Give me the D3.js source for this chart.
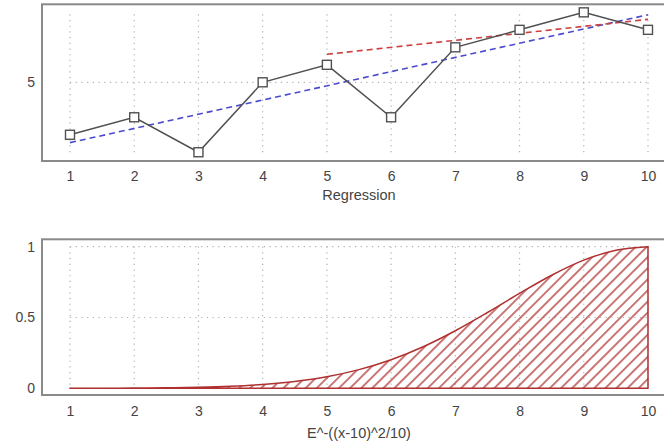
<!DOCTYPE html>
<html>
<head>
<meta charset="utf-8">
<script src="https://cdn.jsdelivr.net/npm/d3@7"></script>
<style>
  html, body { margin: 0; padding: 0; background: #fff; }
  svg { display: block; }
  text { font-family: "Liberation Sans", Arial, sans-serif; fill: #444; }
</style>
</head>
<body>
<svg id="chart" width="664" height="441"></svg>
<script>
// ---- data ----
const xValues = [1, 2, 3, 4, 5, 6, 7, 8, 9, 10];
const yValues = [2, 3, 1, 5, 6, 3, 7, 8, 9, 8];
const fitAllX = [1, 10];
const fitAllY = [1.55, 8.86];
const fitTailX = [5, 10];
const fitTailY = [6.6, 8.6];
const curveX = [1, 1.5, 2, 2.5, 3, 3.5, 4, 4.5, 5, 5.5, 6, 6.5, 7, 7.5, 8, 8.5, 9, 9.5, 10];
const curveY = [0.0003, 0.0007, 0.0017, 0.0036, 0.0074, 0.0146, 0.0273, 0.0486, 0.0821, 0.1320,
                0.2019, 0.2938, 0.4066, 0.5353, 0.6703, 0.7985, 0.9048, 0.9753, 1.0];
const xTicks = [1, 2, 3, 4, 5, 6, 7, 8, 9, 10];
const topYTicks = [5];
const bottomYTicks = [0, 0.5, 1];
const bottomYTickLabels = ["0", "0.5", "1"];
const topTitle = "Regression";
const bottomTitle = "E^-((x-10)^2/10)";

const svg = d3.select("#chart");
const gridColor = "#b0b0b0";
const frameColor = "#8a8a8a";
const fontSize = 14.5;

const left = 42, right = 676;
const x = d3.scaleLinear().domain([0.564, 10.436]).range([left, right]);

// ---------- top panel ----------
const yTop = d3.scaleLinear().domain([0.5, 9.46]).range([161, 4.3]);
const gTop = svg.append("g");

gTop.selectAll("line.vgrid").data(xTicks).join("line")
  .attr("x1", d => x(d)).attr("x2", d => x(d))
  .attr("y1", yTop(1)).attr("y2", yTop(9))
  .attr("stroke", gridColor).attr("stroke-width", 1.2).attr("stroke-dasharray", "1.2,4.5");
gTop.selectAll("line.hgrid").data(topYTicks).join("line")
  .attr("x1", x(1)).attr("x2", x(10))
  .attr("y1", d => yTop(d)).attr("y2", d => yTop(d))
  .attr("stroke", gridColor).attr("stroke-width", 1.2).attr("stroke-dasharray", "1.2,4.5");

const lineFn = (xs, ys, sx, sy) => d3.line().x((d, i) => sx(xs[i])).y((d, i) => sy(ys[i]))(xs);
gTop.append("path").attr("d", lineFn(fitAllX, fitAllY, x, yTop))
  .attr("fill", "none").attr("stroke", "#4a4ad0").attr("stroke-width", 1.6).attr("stroke-dasharray", "6,4");
gTop.append("path").attr("d", lineFn(fitTailX, fitTailY, x, yTop))
  .attr("fill", "none").attr("stroke", "#cc4040").attr("stroke-width", 1.6).attr("stroke-dasharray", "6,4");

gTop.append("path").attr("d", lineFn(xValues, yValues, x, yTop))
  .attr("fill", "none").attr("stroke", "#505050").attr("stroke-width", 1.5);
gTop.selectAll("rect.mk").data(xValues).join("rect")
  .attr("x", (d) => x(d) - 4.5).attr("y", (d, i) => yTop(yValues[i]) - 4.5)
  .attr("width", 9).attr("height", 9)
  .attr("fill", "#fff").attr("stroke", "#505050").attr("stroke-width", 1.4);

gTop.append("rect").attr("x", left).attr("y", 4.3).attr("width", right - left).attr("height", 161 - 4.3)
  .attr("fill", "none").attr("stroke", frameColor).attr("stroke-width", 2);

gTop.append("g").attr("transform", "translate(0,161)")
  .call(d3.axisBottom(x).tickValues(xTicks).tickSize(0).tickPadding(10).tickFormat(d3.format("d")));
gTop.append("g").attr("transform", `translate(${left},0)`)
  .call(d3.axisLeft(yTop).tickValues(topYTicks).tickSize(0).tickPadding(7).tickFormat(d3.format("d")));
gTop.append("text").attr("x", x(5.5)).attr("y", 200).attr("text-anchor", "middle")
  .attr("font-size", fontSize).text(topTitle);

// ---------- bottom panel ----------
const yBot = d3.scaleLinear().domain([-0.047, 1.052]).range([395, 239.3]);
const gBot = svg.append("g");

const defs = svg.append("defs");
const pat = defs.append("pattern").attr("id", "hatch").attr("patternUnits", "userSpaceOnUse")
  .attr("width", 7.85).attr("height", 7.85).attr("patternTransform", "rotate(45)");
pat.append("line").attr("x1", 3.9).attr("y1", 0).attr("x2", 3.9).attr("y2", 7.85)
  .attr("stroke", "#b43c3c").attr("stroke-width", 1.4);

gBot.selectAll("line.vgrid").data(xTicks).join("line")
  .attr("x1", d => x(d)).attr("x2", d => x(d))
  .attr("y1", yBot(1)).attr("y2", yBot(0))
  .attr("stroke", gridColor).attr("stroke-width", 1.2).attr("stroke-dasharray", "1.2,4.5");
gBot.selectAll("line.hgrid").data(bottomYTicks).join("line")
  .attr("x1", x(1)).attr("x2", x(10))
  .attr("y1", d => yBot(d)).attr("y2", d => yBot(d))
  .attr("stroke", gridColor).attr("stroke-width", 1.2).attr("stroke-dasharray", "1.2,4.5");

const area = d3.area().curve(d3.curveMonotoneX)
  .x((d, i) => x(curveX[i])).y0(yBot(0)).y1((d, i) => yBot(curveY[i]));
gBot.append("path").attr("d", area(curveX)).attr("fill", "url(#hatch)")
  .attr("stroke", "#b03030").attr("stroke-width", 1.5);

gBot.append("rect").attr("x", left).attr("y", 239.3).attr("width", right - left).attr("height", 395 - 239.3)
  .attr("fill", "none").attr("stroke", frameColor).attr("stroke-width", 2);

gBot.append("g").attr("transform", "translate(0,395)")
  .call(d3.axisBottom(x).tickValues(xTicks).tickSize(0).tickPadding(11).tickFormat(d3.format("d")));
gBot.append("g").attr("transform", `translate(${left},0)`)
  .call(d3.axisLeft(yBot).tickValues(bottomYTicks).tickSize(0).tickPadding(7)
    .tickFormat((d, i) => bottomYTickLabels[i]));
gBot.append("text").attr("x", x(5.5)).attr("y", 438).attr("text-anchor", "middle")
  .attr("font-size", fontSize).text(bottomTitle);

svg.selectAll(".domain").remove();
svg.selectAll(".tick text").attr("font-size", 14).attr("fill", "#444")
  .attr("font-family", "'Liberation Sans', Arial, sans-serif");
</script>
</body>
</html>
